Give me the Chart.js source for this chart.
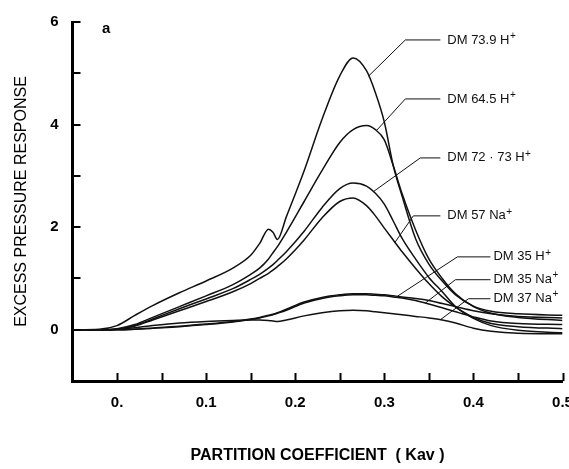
<!DOCTYPE html>
<html>
<head>
<meta charset="utf-8">
<script src="https://cdn.jsdelivr.net/npm/chart.js@4/dist/chart.umd.min.js"></script>
<style>
  html, body { margin: 0; padding: 0; background: #fff; }
  canvas { display: block; }
</style>
</head>
<body>
<canvas id="chart" width="569" height="469"></canvas>
<script>
// Partition coefficient (Kav) sample points shared by all curves
const kav = [-0.05, -0.02, 0.00, 0.02, 0.04, 0.07, 0.10, 0.13, 0.15, 0.16, 0.17, 0.175, 0.18, 0.19,
             0.21, 0.23, 0.25, 0.265, 0.28, 0.29, 0.30, 0.31, 0.32, 0.335, 0.35, 0.365, 0.38, 0.40,
             0.42, 0.45, 0.50];

// Excess pressure response for each dextran sample
const dm739H = [0, 0.01, 0.08, 0.28, 0.47, 0.72, 0.95, 1.2, 1.45, 1.68, 1.96, 1.9, 1.76, 2.2,
                3.1, 4.1, 4.95, 5.3, 5.05, 4.62, 4.05, 3.2, 2.6, 1.78, 1.28, 0.95, 0.68, 0.46,
                0.36, 0.31, 0.28];
const dm645H = [0, 0, 0.02, 0.1, 0.24, 0.45, 0.66, 0.88, 1.08, 1.2, 1.38, 1.5, 1.62, 1.9,
                2.5, 3.1, 3.65, 3.9, 3.98, 3.9, 3.7, 3.2, 2.65, 1.95, 1.38, 1.0, 0.7, 0.45,
                0.32, 0.24, 0.18];
const dm7273H = [0, 0, 0.01, 0.08, 0.21, 0.41, 0.6, 0.8, 0.98, 1.08, 1.2, 1.27, 1.35, 1.52,
                 1.92, 2.38, 2.75, 2.86, 2.8, 2.66, 2.45, 2.12, 1.78, 1.38, 1.02, 0.74, 0.45, 0.24,
                 0.12, 0.06, 0.02];
const dm57Na = [0, 0, 0.01, 0.07, 0.19, 0.37, 0.55, 0.74, 0.9, 1.0, 1.1, 1.16, 1.23, 1.38,
                1.75, 2.18, 2.5, 2.57, 2.42, 2.22, 1.98, 1.75, 1.52, 1.2, 0.9, 0.64, 0.44, 0.22,
                0.08, -0.01, -0.06];
const dm35H = [0, 0, 0, 0.01, 0.03, 0.07, 0.11, 0.16, 0.21, 0.24, 0.28, 0.3, 0.33, 0.4,
               0.54, 0.63, 0.68, 0.7, 0.7, 0.69, 0.68, 0.66, 0.64, 0.61, 0.57, 0.51, 0.45, 0.37,
               0.31, 0.26, 0.23];
const dm35Na = [0, 0, 0, 0.01, 0.03, 0.06, 0.1, 0.15, 0.2, 0.23, 0.27, 0.29, 0.32, 0.38,
                0.52, 0.61, 0.66, 0.68, 0.68, 0.67, 0.66, 0.64, 0.62, 0.57, 0.5, 0.43, 0.35, 0.25,
                0.17, 0.12, 0.10];
const dm37Na = [0, 0, 0.01, 0.04, 0.08, 0.13, 0.16, 0.18, 0.19, 0.19, 0.18, 0.17, 0.16, 0.19,
                0.27, 0.33, 0.37, 0.38, 0.37, 0.35, 0.33, 0.31, 0.29, 0.26, 0.23, 0.19, 0.13, 0.03,
                -0.03, -0.07, -0.08];

const seriesNames = ['DM 73.9 H+', 'DM 64.5 H+', 'DM 72 \u00b7 73 H+', 'DM 57 Na+',
                     'DM 35 H+', 'DM 35 Na+', 'DM 37 Na+'];
const seriesValues = [dm739H, dm645H, dm7273H, dm57Na, dm35H, dm35Na, dm37Na];

// Axis ticks
const xLabelValues = [0, 0.1, 0.2, 0.3, 0.4, 0.5];
const xTickLabels = ['0.', '0.1', '0.2', '0.3', '0.4', '0.5'];
const xTickMarks = [0, 0.05, 0.1, 0.15, 0.2, 0.25, 0.3, 0.35, 0.4, 0.45, 0.5];
const yLabelValues = [0, 2, 4, 6];
const yTickLabels = ['0', '2', '4', '6'];
const yTickMarks = [0, 1, 2, 3, 4, 5, 6];

// Callout leaders: point on the curve (kav), elbow (kav, response), end of the rule (kav)
const calloutKav = [0.2824, 0.291, 0.2877, 0.312, 0.3146, 0.346, 0.363];
const calloutElbow = [[0.3236, 5.65], [0.3236, 4.50], [0.3404, 3.35], [0.3326, 2.22],
                      [0.3820, 1.42], [0.3798, 0.975], [0.3944, 0.604]];
const calloutEnd = [0.3629, 0.3629, 0.3629, 0.3629, 0.4191, 0.4191, 0.4191];
const calloutText = [0.3707, 0.3707, 0.3707, 0.3707, 0.4225, 0.4225, 0.4225];

const FONT = '"Liberation Sans", Arial, Helvetica, sans-serif';
const INK = '#111';

function interp(xs, ys, x) {
  for (let i = 0; i < xs.length - 1; i++) {
    if (x >= xs[i] && x <= xs[i + 1]) {
      const t = (x - xs[i]) / (xs[i + 1] - xs[i]);
      return ys[i] + t * (ys[i + 1] - ys[i]);
    }
  }
  return ys[ys.length - 1];
}

const overlay = {
  id: 'overlay',
  afterDatasetsDraw(chart) {
    const { ctx, scales: { x, y }, chartArea } = chart;
    ctx.save();
    ctx.strokeStyle = '#000';
    ctx.lineCap = 'butt';

    // inward tick marks
    ctx.lineWidth = 2;
    ctx.beginPath();
    xTickMarks.forEach(v => {
      const px = Math.round(x.getPixelForValue(v)) + 0.5;
      ctx.moveTo(px, chartArea.bottom);
      ctx.lineTo(px, chartArea.bottom - 8);
    });
    yTickMarks.forEach(v => {
      const py = Math.round(y.getPixelForValue(v));
      ctx.moveTo(chartArea.left, py);
      ctx.lineTo(chartArea.left + 8, py);
    });
    ctx.stroke();

    // callout leaders and series names
    ctx.lineWidth = 1;
    ctx.strokeStyle = INK;
    ctx.fillStyle = INK;
    ctx.textBaseline = 'middle';
    seriesNames.forEach((name, i) => {
      const ax = x.getPixelForValue(calloutKav[i]);
      const ay = y.getPixelForValue(interp(kav, seriesValues[i], calloutKav[i]));
      const ex = x.getPixelForValue(calloutElbow[i][0]);
      const ey = y.getPixelForValue(calloutElbow[i][1]);
      const rx = x.getPixelForValue(calloutEnd[i]);
      ctx.beginPath();
      ctx.moveTo(ax, ay);
      ctx.lineTo(ex, ey);
      ctx.lineTo(rx, ey);
      ctx.stroke();

      const tx = x.getPixelForValue(calloutText[i]);
      const base = name.slice(0, -1);
      const sup = name.slice(-1);
      ctx.font = '13px ' + FONT;
      ctx.textAlign = 'left';
      ctx.fillText(base, tx, ey);
      const w = ctx.measureText(base).width;
      ctx.font = '10px ' + FONT;
      ctx.fillText(sup, tx + w + 0.5, ey - 4);
    });

    // panel letter
    ctx.font = 'bold 15px ' + FONT;
    ctx.fillStyle = '#000';
    ctx.textAlign = 'left';
    ctx.fillText('a', x.getPixelForValue(-0.0169), y.getPixelForValue(5.87));
    ctx.restore();
  }
};

new Chart(document.getElementById('chart'), {
  type: 'line',
  data: {
    datasets: seriesNames.map((name, i) => ({
      label: name,
      data: kav.map((k, j) => ({ x: k, y: seriesValues[i][j] })),
      borderColor: INK,
      borderWidth: 1.5,
      pointRadius: 0,
      fill: false,
      cubicInterpolationMode: 'monotone'
    }))
  },
  options: {
    responsive: false,
    animation: false,
    layout: { padding: { left: 0, right: 6.5, top: 22, bottom: 0 } },
    plugins: { legend: { display: false }, tooltip: { enabled: false } },
    scales: {
      x: {
        type: 'linear',
        min: -0.05,
        max: 0.5,
        grid: { display: false, drawTicks: false },
        border: { display: true, width: 3, color: '#000' },
        afterBuildTicks: s => { s.ticks = xLabelValues.map(v => ({ value: v })); },
        afterFit: s => { s.paddingLeft = 0; s.paddingRight = 0; s.height = 88; },
        ticks: {
          padding: 13,
          maxRotation: 0,
          autoSkip: false,
          color: '#000',
          font: { family: FONT, size: 15, weight: 'bold' },
          callback: (v, i) => xTickLabels[i]
        },
        title: {
          display: true,
          text: 'PARTITION COEFFICIENT  ( Kav )',
          color: '#000',
          font: { family: FONT, size: 16, weight: 'bold' },
          padding: { top: 0, bottom: 3.5 }
        }
      },
      y: {
        type: 'linear',
        min: -1,
        max: 6,
        grid: { display: false, drawTicks: false },
        border: { display: true, width: 3, color: '#000' },
        afterBuildTicks: s => { s.ticks = yLabelValues.map(v => ({ value: v })); },
        afterFit: s => { s.paddingTop = 0; s.paddingBottom = 0; s.width = 72.5; },
        ticks: {
          padding: 14,
          autoSkip: false,
          color: '#000',
          font: { family: FONT, size: 15, weight: 'bold' },
          callback: (v, i) => yTickLabels[i]
        },
        title: {
          display: true,
          text: 'EXCESS PRESSURE RESPONSE',
          color: '#000',
          font: { family: FONT, size: 16, weight: 'normal' },
          padding: { top: 12.4, bottom: 0 }
        }
      }
    }
  },
  plugins: [overlay]
});
</script>
</body>
</html>
